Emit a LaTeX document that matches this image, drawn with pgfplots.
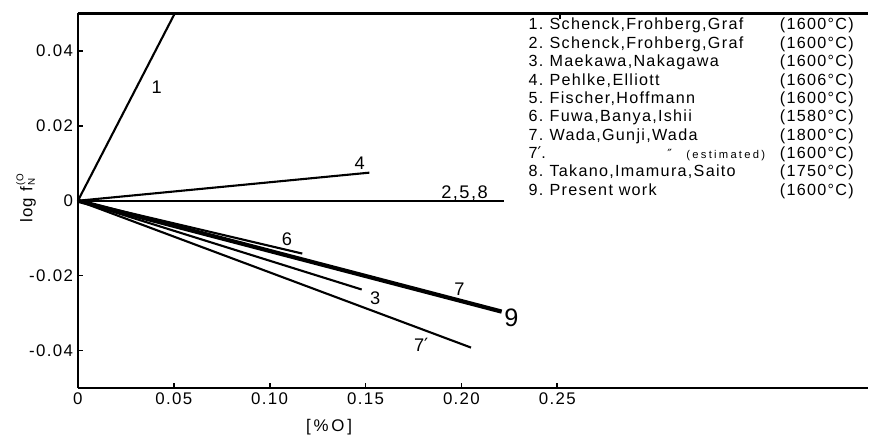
\documentclass[border=0pt]{standalone}
\usepackage{fontspec}
\setmainfont[LetterSpace=8]{Liberation Sans}
\newfontfamily\djv{DejaVu Sans}
\usepackage{pgfplots}
\pgfplotsset{compat=1.18}
\def\px{0.25mm}

\begin{document}
\begin{tikzpicture}
% picture frame: 1 unit = 1 pixel of the reference, origin at the axis corner
\begin{scope}[x=\px,y=\px]
\useasboundingbox (-78,-47.5) rectangle (791,388.5);
\end{scope}

\begin{axis}[
    scale only axis,
    width=197.75mm, height=93.75mm,
    xmin=0, xmax=0.412,
    ymin=-0.05, ymax=0.05,
    clip=false,
    scaled ticks=false,
    axis x line*=bottom,
    axis y line*=left,
    axis line style={line width=1.5pt, -},
    tick align=inside,
    major tick length=1.3mm,
    tick style={line width=1.2pt, black},
    xtick={0,0.05,0.1,0.15,0.2,0.25},
    xticklabels={0,0.05,0.10,0.15,0.20,0.25},
    ytick={-0.04,-0.02,0,0.02,0.04},
    yticklabels={-0.04,-0.02,0,0.02,0.04},
    ticklabel style={font=\fontsize{12}{14}\selectfont},
    xlabel={[\,\%\,O\,]},
    xlabel style={at={(axis description cs:0.318,-0.105)}, anchor=center,
                  font=\fontsize{12}{14}\selectfont},
    ylabel={log f\kern1pt\rlap{\raisebox{1ex}{\scriptsize (O}}\raisebox{-0.3ex}{\scriptsize N}},
    ylabel style={at={(axis description cs:-0.0657,0.5)}, anchor=center,
                  font=\fontsize{12}{14}\selectfont},
    cycle list={{black, no marks}},
    every axis plot/.append style={line width=1.5pt},
]

\addplot coordinates {(0,0) (0.0505,0.05)};      % 1
\addplot coordinates {(0,0) (0.152,0.0075)};     % 4
\addplot coordinates {(0,0) (0.2224,0)};         % 2,5,8
\addplot coordinates {(0,0) (0.117,-0.0141)};    % 6
\addplot coordinates {(0,0) (0.148,-0.0237)};    % 3
\addplot coordinates {(0,0) (0.205,-0.0392)};    % 7'
\addplot[black, no marks, line width=3pt] coordinates {(0,0) (0.221,-0.0296)}; % 7 and 9

% top border (no right border in the original)
\draw[line width=1.5pt] (rel axis cs:0,1) -- (rel axis cs:1,1);
\draw[line width=1.2pt] (axis cs:0.2515,0.05) -- (axis cs:0.2515,0.0486);

% line labels
\begin{scope}[font=\fontsize{13}{13}\selectfont]
\node at (axis cs:0.0411,0.0304) {1};
\node at (axis cs:0.147,0.0101) {4};
\node at (axis cs:0.2016,0.0021) {2,5,8};
\node at (axis cs:0.109,-0.0104) {6};
\node at (axis cs:0.155,-0.0259) {3};
\node at (axis cs:0.199,-0.0237) {7};
\node at (axis cs:0.179,-0.0384) {7{\djv\char"2032}};
\node[font=\fontsize{18}{18}\selectfont] at (axis cs:0.226,-0.0312) {9};
\end{scope}
\end{axis}

% list of sources
\begin{scope}[x=\px,y=\px, font=\fontsize{11.5}{13}\selectfont,
              every node/.style={inner sep=0pt}]
\node[anchor=base west] at (451,358.5) {1.};
\node[anchor=base west] at (472,358.5) {Schenck,Frohberg,Graf};
\node[anchor=base east] at (777,358.5) {(1600°C)};
\node[anchor=base west] at (451,340.1) {2.};
\node[anchor=base west] at (472,340.1) {Schenck,Frohberg,Graf};
\node[anchor=base east] at (777,340.1) {(1600°C)};
\node[anchor=base west] at (451,321.7) {3.};
\node[anchor=base west] at (472,321.7) {Maekawa,Nakagawa};
\node[anchor=base east] at (777,321.7) {(1600°C)};
\node[anchor=base west] at (451,303.3) {4.};
\node[anchor=base west] at (472,303.3) {Pehlke,Elliott};
\node[anchor=base east] at (777,303.3) {(1606°C)};
\node[anchor=base west] at (451,284.9) {5.};
\node[anchor=base west] at (472,284.9) {Fischer,Hoffmann};
\node[anchor=base east] at (777,284.9) {(1600°C)};
\node[anchor=base west] at (451,266.5) {6.};
\node[anchor=base west] at (472,266.5) {Fuwa,Banya,Ishii};
\node[anchor=base east] at (777,266.5) {(1580°C)};
\node[anchor=base west] at (451,248.1) {7.};
\node[anchor=base west] at (472,248.1) {Wada,Gunji,Wada};
\node[anchor=base east] at (777,248.1) {(1800°C)};
\node[anchor=base west] at (451,229.7) {7{\djv\char"2032}.};
\node[anchor=base west, font=\djv\fontsize{9}{9}\selectfont] at (590,229.7) {\char"2033};
\node[anchor=base west, font=\addfontfeature{LetterSpace=20}\fontsize{8}{9}\selectfont] at (609,229.7) {(estimated)};
\node[anchor=base east] at (777,229.7) {(1600°C)};
\node[anchor=base west] at (451,211.3) {8.};
\node[anchor=base west] at (472,211.3) {Takano,Imamura,Saito};
\node[anchor=base east] at (777,211.3) {(1750°C)};
\node[anchor=base west] at (451,192.9) {9.};
\node[anchor=base west] at (472,192.9) {Present work};
\node[anchor=base east] at (777,192.9) {(1600°C)};
\end{scope}
\end{tikzpicture}
\end{document}
